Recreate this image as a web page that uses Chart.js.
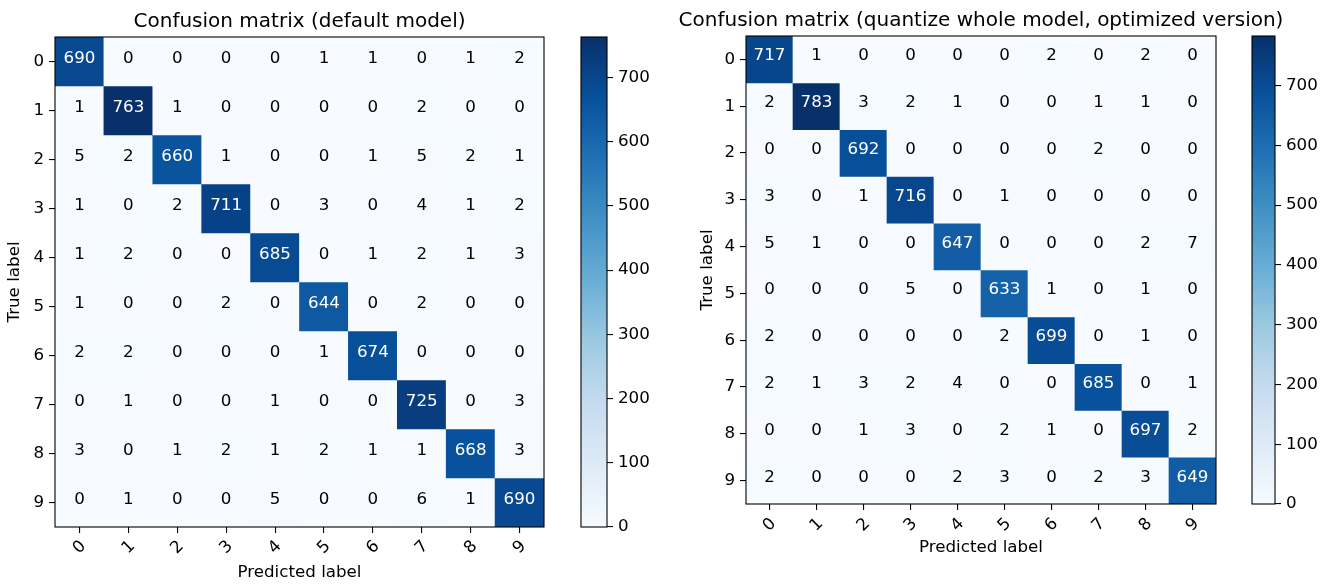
<!DOCTYPE html>
<html>
<head>
<meta charset="utf-8">
<script src="https://cdn.jsdelivr.net/npm/chart.js@4.4.0/dist/chart.umd.min.js"></script>
<style>
  html, body { margin: 0; padding: 0; background: #fff; }
  #wrap { position: relative; width: 1331px; height: 584px; overflow: hidden; }
  #wrap canvas { position: absolute; left: 0; top: 0; }
</style>
</head>
<body>
<div id="wrap">
  <canvas id="cmDefault" width="1331" height="584"></canvas>
  <canvas id="cbDefault" width="1331" height="584"></canvas>
  <canvas id="cmQuant" width="1331" height="584"></canvas>
  <canvas id="cbQuant" width="1331" height="584"></canvas>
</div>
<script>
// ---- data ----
const classLabels = ['0', '1', '2', '3', '4', '5', '6', '7', '8', '9'];

// rows = true label, columns = predicted label
const defaultCounts = [
  [690,   0,   0,   0,   0,   1,   1,   0,   1,   2],
  [  1, 763,   1,   0,   0,   0,   0,   2,   0,   0],
  [  5,   2, 660,   1,   0,   0,   1,   5,   2,   1],
  [  1,   0,   2, 711,   0,   3,   0,   4,   1,   2],
  [  1,   2,   0,   0, 685,   0,   1,   2,   1,   3],
  [  1,   0,   0,   2,   0, 644,   0,   2,   0,   0],
  [  2,   2,   0,   0,   0,   1, 674,   0,   0,   0],
  [  0,   1,   0,   0,   1,   0,   0, 725,   0,   3],
  [  3,   0,   1,   2,   1,   2,   1,   1, 668,   3],
  [  0,   1,   0,   0,   5,   0,   0,   6,   1, 690]
];

const quantizedCounts = [
  [717,   1,   0,   0,   0,   0,   2,   0,   2,   0],
  [  2, 783,   3,   2,   1,   0,   0,   1,   1,   0],
  [  0,   0, 692,   0,   0,   0,   0,   2,   0,   0],
  [  3,   0,   1, 716,   0,   1,   0,   0,   0,   0],
  [  5,   1,   0,   0, 647,   0,   0,   0,   2,   7],
  [  0,   0,   0,   5,   0, 633,   1,   0,   1,   0],
  [  2,   0,   0,   0,   0,   2, 699,   0,   1,   0],
  [  2,   1,   3,   2,   4,   0,   0, 685,   0,   1],
  [  0,   0,   1,   3,   0,   2,   1,   0, 697,   2],
  [  2,   0,   0,   0,   2,   3,   0,   2,   3, 649]
];

const colorbarTicks = [0, 100, 200, 300, 400, 500, 600, 700];

const defaultTitle = 'Confusion matrix (default model)';
const quantizedTitle = 'Confusion matrix (quantize whole model, optimized version)';
const xAxisLabel = 'Predicted label';
const yAxisLabel = 'True label';

// ---- styling ----
const W = 1331, H = 584;
const FONT = "'DejaVu Sans', 'Liberation Sans', sans-serif";
const TICK_PX = 16.7;
const TITLE_PX = 20;
const TICK_LEN = 6;
const BLUES = ['#f7fbff', '#deebf7', '#c6dbef', '#9ecae1', '#6baed6',
               '#4292c6', '#2171b5', '#08519c', '#08306b'];

Chart.defaults.font.family = FONT;
Chart.defaults.color = '#000';
Chart.defaults.animation = false;

function hexToRgb(h) {
  return [parseInt(h.slice(1, 3), 16), parseInt(h.slice(3, 5), 16), parseInt(h.slice(5, 7), 16)];
}
const BLUES_RGB = BLUES.map(hexToRgb);

// Linear interpolation through the Blues colour ramp, t in [0, 1]
function bluesColor(t) {
  t = Math.max(0, Math.min(1, t));
  const s = t * (BLUES_RGB.length - 1);
  const i = Math.min(Math.floor(s), BLUES_RGB.length - 2);
  const f = s - i;
  const a = BLUES_RGB[i], b = BLUES_RGB[i + 1];
  const c = a.map((v, k) => Math.round(v + (b[k] - v) * f));
  return `rgb(${c[0]},${c[1]},${c[2]})`;
}

function maxOf(counts) {
  return Math.max(...counts.map(r => Math.max(...r)));
}

// Outline around the plotting area
const framePlugin = {
  id: 'frame',
  afterDatasetsDraw(chart) {
    const { ctx, chartArea: a } = chart;
    ctx.save();
    ctx.strokeStyle = '#000';
    ctx.lineWidth = 1.1;
    ctx.strokeRect(a.left, a.top, a.right - a.left, a.bottom - a.top);
    ctx.restore();
  }
};

// Heading centred over the plotting area; allowed to run wider than the axes
function headingPlugin(text, baselineY) {
  return {
    id: 'heading',
    afterDraw(chart) {
      const { ctx, chartArea: a } = chart;
      ctx.save();
      ctx.font = `${TITLE_PX}px ${FONT}`;
      ctx.fillStyle = '#000';
      ctx.textAlign = 'center';
      ctx.textBaseline = 'alphabetic';
      ctx.fillText(text, (a.left + a.right) / 2, baselineY);
      ctx.restore();
    }
  };
}

// Count written in the middle of every cell
function cellTextPlugin(counts) {
  const thresh = maxOf(counts) / 2;
  return {
    id: 'cellText',
    afterDatasetsDraw(chart) {
      const { ctx } = chart;
      const xs = chart.scales.x, ys = chart.scales.y;
      ctx.save();
      ctx.font = `${TICK_PX}px ${FONT}`;
      ctx.textAlign = 'center';
      ctx.textBaseline = 'alphabetic';
      counts.forEach((row, r) => {
        row.forEach((v, c) => {
          ctx.fillStyle = v > thresh ? '#fff' : '#000';
          ctx.fillText(String(v), xs.getPixelForValue(c), ys.getPixelForValue(r) + 1);
        });
      });
      ctx.restore();
    }
  };
}

function matrixChart(id, counts, title, box) {
  const vmax = maxOf(counts);
  const lh = TICK_PX * 1.2;
  const datasets = counts.map((row, r) => ({
    label: 'true ' + classLabels[r],
    data: row.map(() => [r - 0.5, r + 0.5]),
    backgroundColor: row.map(v => bluesColor(v / vmax)),
    borderWidth: 0,
    grouped: false,
    barPercentage: 1,
    categoryPercentage: 1
  }));
  return new Chart(document.getElementById(id), {
    type: 'bar',
    data: { labels: classLabels, datasets },
    options: {
      responsive: false,
      animation: false,
      events: [],
      layout: { padding: { left: box.yBoxLeft, right: W - box.right, top: box.top, bottom: 0 } },
      plugins: {
        legend: { display: false },
        tooltip: { enabled: false },
        title: { display: false }
      },
      scales: {
        x: {
          type: 'category',
          offset: true,
          afterFit(s) { s.height = H - box.bottom; },
          grid: { drawOnChartArea: false, offset: false, color: '#000', lineWidth: 1.1, tickLength: TICK_LEN },
          border: { display: false },
          ticks: {
            autoSkip: false, minRotation: 45, maxRotation: 45,
            padding: box.xTickPad, labelOffset: 4,
            font: { size: TICK_PX }, color: '#000'
          },
          title: {
            display: true, text: xAxisLabel, color: '#000',
            font: { size: TICK_PX, lineHeight: 1.2 },
            padding: { top: 0, bottom: (H - box.xLabelY) - lh / 2 }
          }
        },
        y: {
          type: 'linear',
          reverse: true,
          min: -0.5,
          max: classLabels.length - 0.5,
          afterFit(s) { s.width = box.left - box.yBoxLeft; },
          afterBuildTicks(s) { s.ticks = classLabels.map((_, i) => ({ value: i })); },
          grid: { drawOnChartArea: false, color: '#000', lineWidth: 1.1, tickLength: TICK_LEN },
          border: { display: false },
          ticks: {
            padding: 5, font: { size: TICK_PX }, color: '#000',
            callback: v => classLabels[v]
          },
          title: {
            display: true, text: yAxisLabel, color: '#000',
            font: { size: TICK_PX, lineHeight: 1.2 },
            padding: { top: (box.yLabelX - box.yBoxLeft) - lh / 2, bottom: 0 }
          }
        }
      }
    },
    plugins: [cellTextPlugin(counts), framePlugin, headingPlugin(title, box.titleBaseline)]
  });
}

function colorbarChart(id, counts, box) {
  const vmax = maxOf(counts);
  return new Chart(document.getElementById(id), {
    type: 'bar',
    data: {
      labels: ['count'],
      datasets: [{
        data: [[0, vmax]],
        borderWidth: 0,
        barPercentage: 1,
        categoryPercentage: 1,
        backgroundColor(ctx) {
          const a = ctx.chart.chartArea;
          if (!a) return BLUES[0];
          const g = ctx.chart.ctx.createLinearGradient(0, a.bottom, 0, a.top);
          BLUES.forEach((c, i) => g.addColorStop(i / (BLUES.length - 1), c));
          return g;
        }
      }]
    },
    options: {
      responsive: false,
      animation: false,
      events: [],
      layout: { padding: { left: box.left, right: 0, top: box.top, bottom: H - box.bottom } },
      plugins: { legend: { display: false }, tooltip: { enabled: false } },
      scales: {
        x: { display: false, offset: true },
        y: {
          position: 'right',
          min: 0,
          max: vmax,
          afterFit(s) { s.width = W - box.right; },
          afterBuildTicks(s) { s.ticks = colorbarTicks.map(v => ({ value: v })); },
          grid: { drawOnChartArea: false, color: '#000', lineWidth: 1.1, tickLength: TICK_LEN },
          border: { display: false },
          ticks: { padding: 5, font: { size: TICK_PX }, color: '#000' }
        }
      }
    },
    plugins: [framePlugin]
  });
}

matrixChart('cmDefault', defaultCounts, defaultTitle, {
  left: 55, top: 37, right: 544, bottom: 527,
  yBoxLeft: 0, titleBaseline: 27, xTickPad: 3.7, xLabelY: 573, yLabelX: 15
});
colorbarChart('cbDefault', defaultCounts, { left: 581, top: 37, right: 607, bottom: 527 });

matrixChart('cmQuant', quantizedCounts, quantizedTitle, {
  left: 746, top: 36, right: 1216, bottom: 504,
  yBoxLeft: 690, titleBaseline: 26, xTickPad: 4.2, xLabelY: 548, yLabelX: 708
});
colorbarChart('cbQuant', quantizedCounts, { left: 1252, top: 36, right: 1275, bottom: 504 });
</script>
</body>
</html>
